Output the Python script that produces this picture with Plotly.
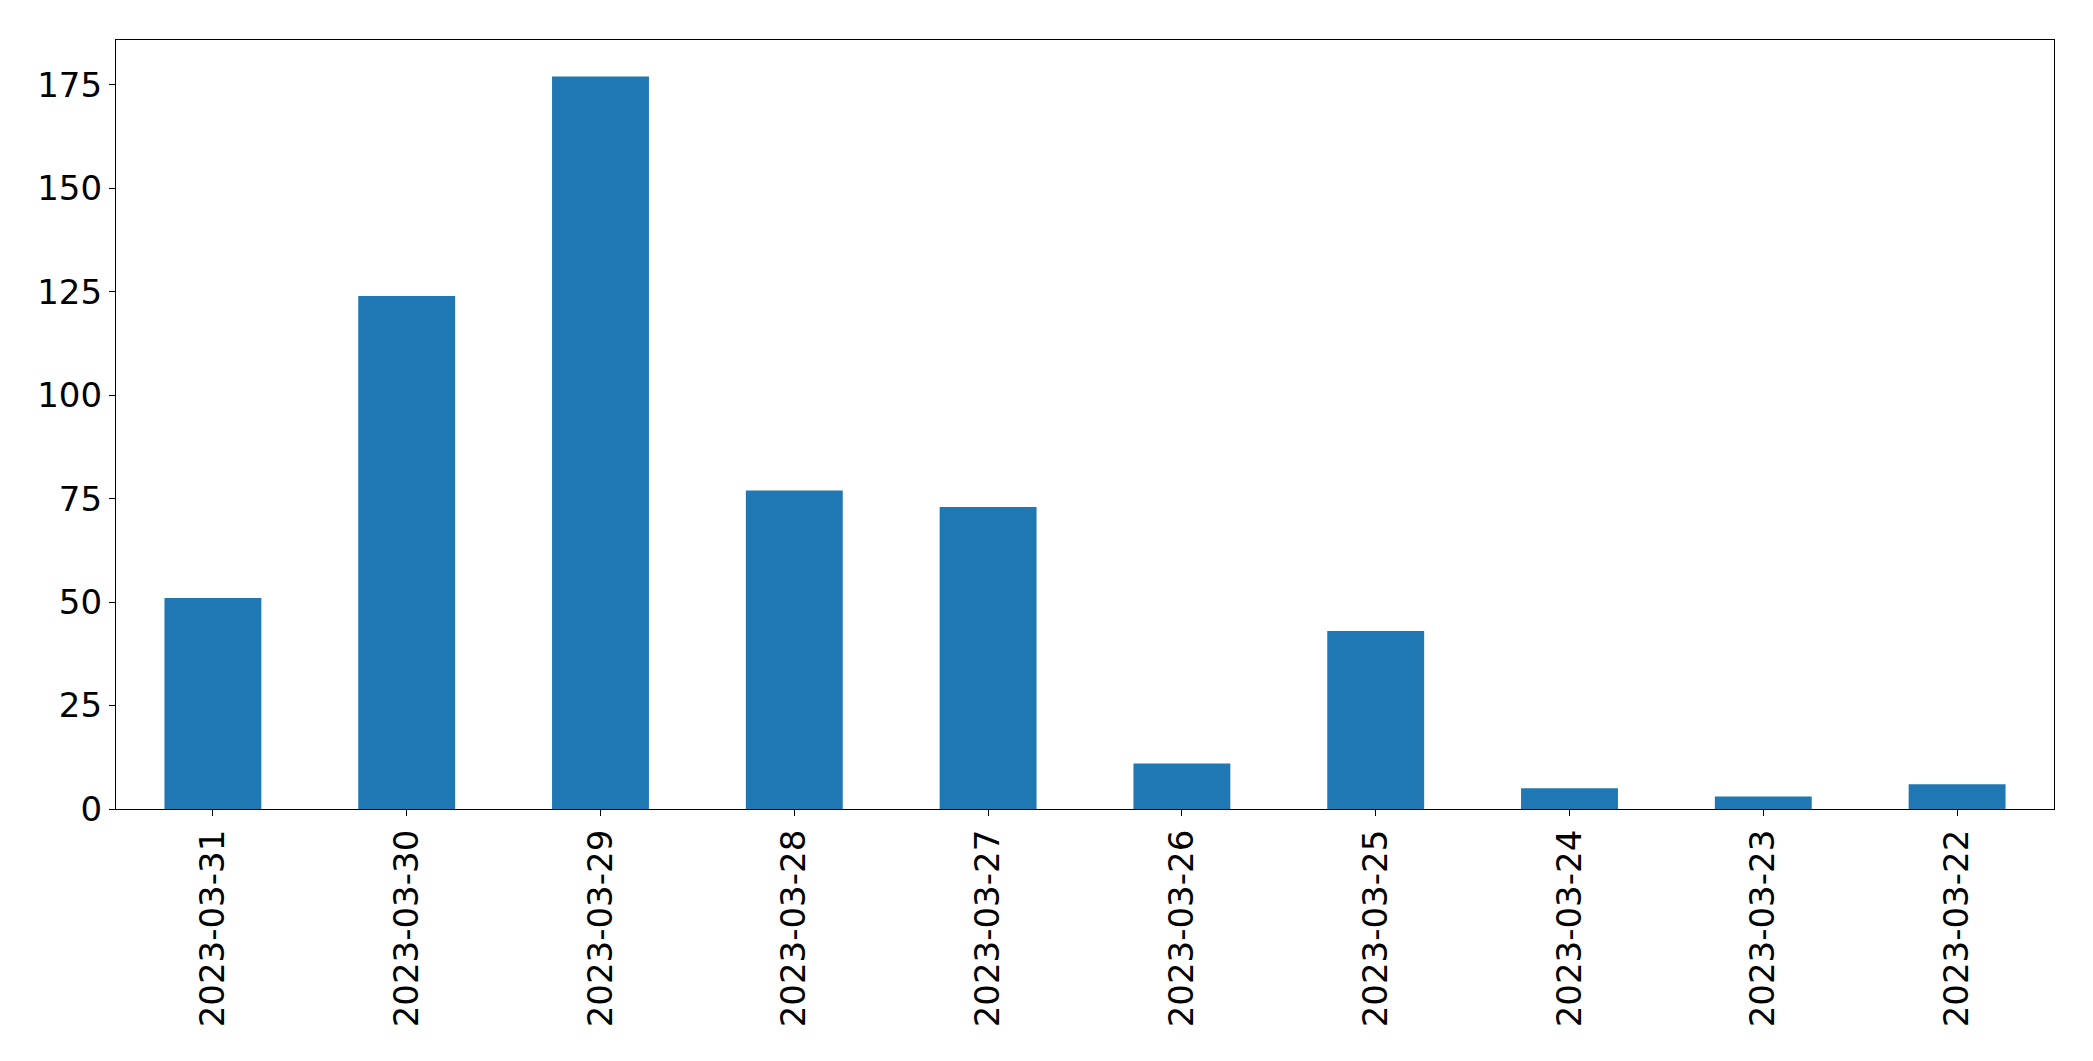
import plotly.graph_objects as go

dates = ["2023-03-31", "2023-03-30", "2023-03-29", "2023-03-28", "2023-03-27",
         "2023-03-26", "2023-03-25", "2023-03-24", "2023-03-23", "2023-03-22"]
counts = [51, 124, 177, 77, 73, 11, 43, 5, 3, 6]
y_ticks = [0, 25, 50, 75, 100, 125, 150, 175]

fig = go.Figure(go.Bar(x=dates, y=counts, width=0.5, marker_color="#1f77b4",
                       marker_line_width=0))

font = dict(family="DejaVu Sans", size=34, color="black")
fig.update_layout(
    width=2093, height=1061,
    margin=dict(l=116, r=39, t=40, b=252),
    plot_bgcolor="white", paper_bgcolor="white",
    showlegend=False,
    font=font,
)
fig.update_xaxes(type="category", range=[-0.5, 9.5], tickangle=-90,
                 showline=True, mirror=True, linecolor="black", linewidth=1.3,
                 ticks="outside", ticklen=6, tickcolor="black", tickwidth=1.3,
                 showgrid=False, tickfont=font)
fig.update_yaxes(range=[0, 185.85], tickvals=y_ticks,
                 showline=True, mirror=True, linecolor="black", linewidth=1.3,
                 ticks="outside", ticklen=6, tickcolor="black", tickwidth=1.3,
                 showgrid=False, zeroline=False, tickfont=font)

fig.write_html("out.html")
